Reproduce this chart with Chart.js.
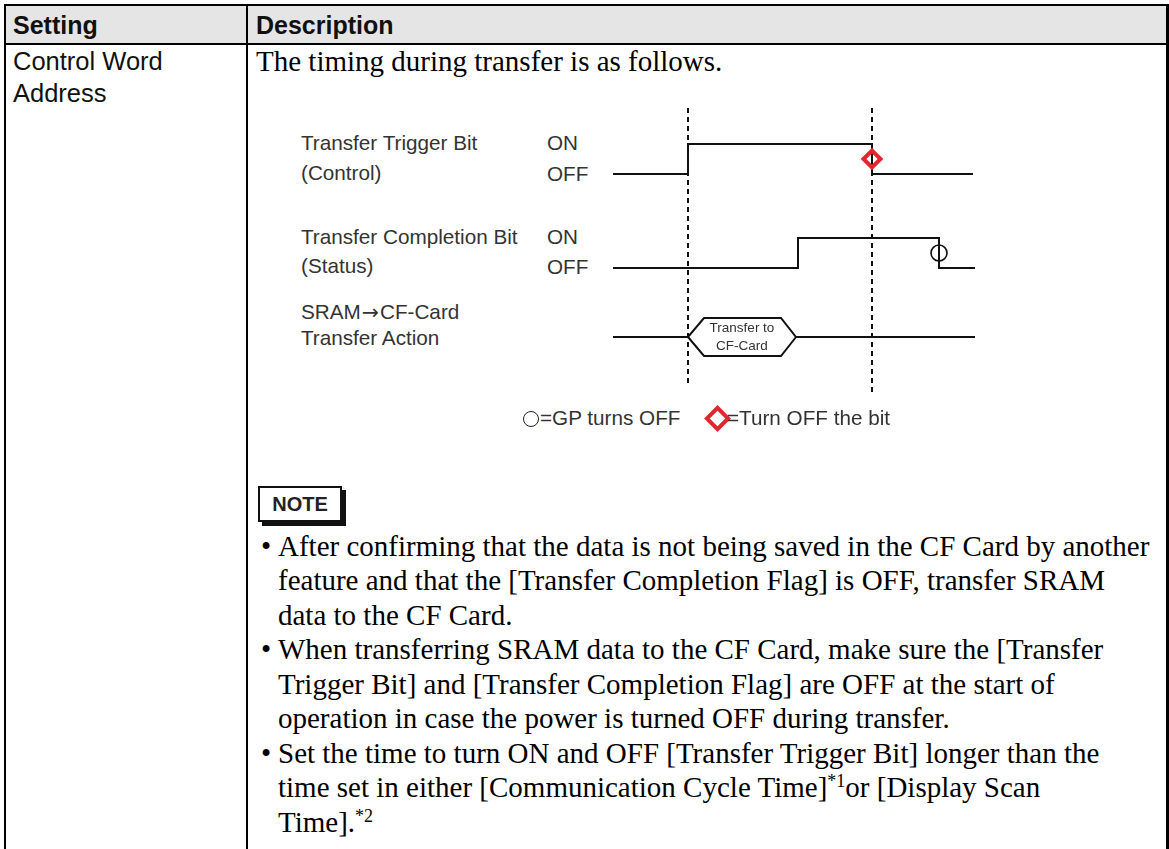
<!DOCTYPE html>
<html>
<head>
<meta charset="utf-8">
<script src="https://cdn.jsdelivr.net/npm/chart.js@4.4.1/dist/chart.umd.min.js"></script>
<style>
  html, body { margin: 0; padding: 0; background: #fff; }
  #page { position: relative; width: 1169px; height: 849px; overflow: hidden; }
  .abs { position: absolute; white-space: nowrap; }
  .rule { position: absolute; background: #000; }
  .sans { font-family: "Liberation Sans", Arial, sans-serif; }
  .serif { font-family: "Liberation Serif", "Times New Roman", serif; color: #000; }
  .hd { font-weight: bold; font-size: 25px; line-height: 25px; color: #111; }
  .cell { font-size: 25.5px; line-height: 25.5px; color: #111; }
  .lbl { font-size: 20.7px; line-height: 20px; color: #333; }
  .arrow { font-family: "DejaVu Sans", sans-serif; font-size: 20.5px; margin: 0 1px; }
  .body { font-size: 29px; line-height: 29px; }
  .hex { font-size: 13.5px; line-height: 14px; color: #333; text-align: center; width: 80px; }
  sup { font-size: 18px; line-height: 0; vertical-align: 10px; }
  #note { position: absolute; left: 258px; top: 486px; width: 80px; height: 32px;
          border: 2px solid #111; box-shadow: 4px 4px 0 #111; background: #fff;
          font-weight: bold; font-size: 20px; line-height: 32px; text-align: center; color: #222; }
  .ring { display: inline-block; width: 16px; height: 16px; border: 1.6px solid #222; border-radius: 50%;
          vertical-align: -2px; margin-right: 1px; box-sizing: border-box; }
  .dia { position: absolute; width: 11px; height: 11px; border: 4px solid #e3262d; transform: rotate(45deg); }
  #timing { position: absolute; left: 600px; top: 100px; }
</style>
</head>
<body>
<div id="page">
  <!-- table frame -->
  <div class="abs" style="left:5px;top:5px;width:1162px;height:39px;background:#e5e5e5"></div>
  <div class="rule" style="left:4px;top:4px;width:1165px;height:2px"></div>
  <div class="rule" style="left:4px;top:43px;width:1165px;height:2px"></div>
  <div class="rule" style="left:4px;top:4px;width:2px;height:845px"></div>
  <div class="rule" style="left:1166px;top:4px;width:2.5px;height:845px"></div>
  <div class="rule" style="left:246px;top:4px;width:2px;height:845px"></div>

  <div class="abs sans hd" style="left:13px;top:13px">Setting</div>
  <div class="abs sans hd" style="left:256px;top:13px">Description</div>
  <div class="abs sans cell" style="left:13px;top:48.5px">Control Word</div>
  <div class="abs sans cell" style="left:13px;top:80.5px">Address</div>

  <div class="abs serif body" style="left:256px;top:47px">The timing during transfer is as follows.</div>

  <!-- timing labels -->
  <div class="abs sans lbl" style="left:301px;top:133px">Transfer Trigger Bit</div>
  <div class="abs sans lbl" style="left:301px;top:163px">(Control)</div>
  <div class="abs sans lbl" style="left:547px;top:133px">ON</div>
  <div class="abs sans lbl" style="left:547px;top:164px">OFF</div>
  <div class="abs sans lbl" style="left:301px;top:227px">Transfer Completion Bit</div>
  <div class="abs sans lbl" style="left:301px;top:256px">(Status)</div>
  <div class="abs sans lbl" style="left:547px;top:227px">ON</div>
  <div class="abs sans lbl" style="left:547px;top:257px">OFF</div>
  <div class="abs sans lbl" style="left:301px;top:302px">SRAM<span class="arrow">→</span>CF-Card</div>
  <div class="abs sans lbl" style="left:301px;top:328px">Transfer Action</div>

  <canvas id="timing" width="400" height="300"></canvas>

  <div class="abs sans hex" style="left:702px;top:321px">Transfer to</div>
  <div class="abs sans hex" style="left:702px;top:339px">CF-Card</div>

  <div class="abs sans lbl" style="left:523px;top:408px"><span class="ring"></span>=GP turns OFF</div>
  <div class="dia" style="left:708px;top:409px"></div>
  <div class="abs sans lbl" style="left:727px;top:408px">=Turn OFF the bit</div>

  <div id="note" class="sans">NOTE</div>

  <div id="notes"></div>
</div>

<script>
// timing diagram values (time in 10 px steps from the left end of the traces)
const triggerT   = [0, 7.5, 25.9, 36.0];
const triggerV   = [0, 1, 0, 0];
const completeT  = [0, 18.5, 32.6, 36.2];
const completeV  = [0, 1, 0, 0];
const actionT    = [0, 7.5, 9.1, 16.8, 18.3, 36.2];
const actionV    = [0, 0, 1, 1, 0, 0];
const markerT    = [7.5, 25.9];   // dashed guide lines
const offBitT    = [25.9];        // "Turn OFF the bit" diamond
const gpOffT     = [32.6];        // "GP turns OFF" circle

const noteLines = [
  ['•', 'After confirming that the data is not being saved in the CF Card by another'],
  ['',  'feature and that the [Transfer Completion Flag] is OFF, transfer SRAM'],
  ['',  'data to the CF Card.'],
  ['•', 'When transferring SRAM data to the CF Card, make sure the [Transfer'],
  ['',  'Trigger Bit] and [Transfer Completion Flag] are OFF at the start of'],
  ['',  'operation in case the power is turned OFF during transfer.'],
  ['•', 'Set the time to turn ON and OFF [Transfer Trigger Bit] longer than the'],
  ['',  'time set in either [Communication Cycle Time]<sup>*1</sup>or [Display Scan'],
  ['',  'Time].<sup>*2</sup>'],
];

// note text
const notes = document.getElementById('notes');
notes.innerHTML = noteLines.map((l, i) => {
  const top = 531.5 + i * 34.5;
  return (l[0] ? `<div class="abs serif body" style="left:261px;top:${top}px">${l[0]}</div>` : '') +
    `<div class="abs serif body" style="left:278px;top:${top}px">${l[1]}</div>`;
}).join('');

// row layout in canvas pixels (y axis runs top-down)
const trigRow = { off: 74, on: 44 };
const compRow = { off: 168, on: 138 };
const actRow  = { mid: 237, half: 19 };

const lineStyle = { showLine: true, borderColor: '#111', borderWidth: 2, pointRadius: 0, fill: false, order: 2 };

const datasets = [
  { ...lineStyle, stepped: true,
    data: triggerT.map((t, i) => ({ x: t, y: triggerV[i] ? trigRow.on : trigRow.off })) },
  { ...lineStyle, stepped: true,
    data: completeT.map((t, i) => ({ x: t, y: completeV[i] ? compRow.on : compRow.off })) },
  { ...lineStyle,
    data: actionT.map((t, i) => ({ x: t, y: actRow.mid - actionV[i] * actRow.half })) },
  { ...lineStyle,
    data: actionT.slice(1, 5).map((t, i) => ({ x: t, y: actRow.mid + actionV[i + 1] * actRow.half })) },
  ...markerT.map((t, i) => ({ ...lineStyle, borderDash: [5, 4], order: 3,
    data: [{ x: t, y: 8 }, { x: t, y: i ? 292 : 285 }] })),
  { showLine: false, order: 0, pointStyle: 'rectRot', pointRadius: 8.5, borderWidth: 4,
    borderColor: '#e3262d', backgroundColor: 'rgba(0,0,0,0)',
    data: offBitT.map(t => ({ x: t, y: (trigRow.on + trigRow.off) / 2 })) },
  { showLine: false, order: 1, pointStyle: 'circle', pointRadius: 8, borderWidth: 1.6,
    borderColor: '#111', backgroundColor: 'rgba(0,0,0,0)',
    data: gpOffT.map(t => ({ x: t, y: (compRow.on + compRow.off) / 2 })) },
];

new Chart(document.getElementById('timing'), {
  type: 'scatter',
  data: { datasets },
  options: {
    responsive: false,
    animation: false,
    devicePixelRatio: 1,
    layout: { padding: 0, autoPadding: false },
    plugins: { legend: { display: false }, tooltip: { enabled: false } },
    elements: { line: { tension: 0, borderCapStyle: 'butt' }, point: { hoverRadius: 0 } },
    scales: {
      x: { type: 'linear', display: false, min: -1.3, max: 38.7 },
      y: { type: 'linear', display: false, min: 0, max: 300, reverse: true },
    },
  },
});
</script>
</body>
</html>
